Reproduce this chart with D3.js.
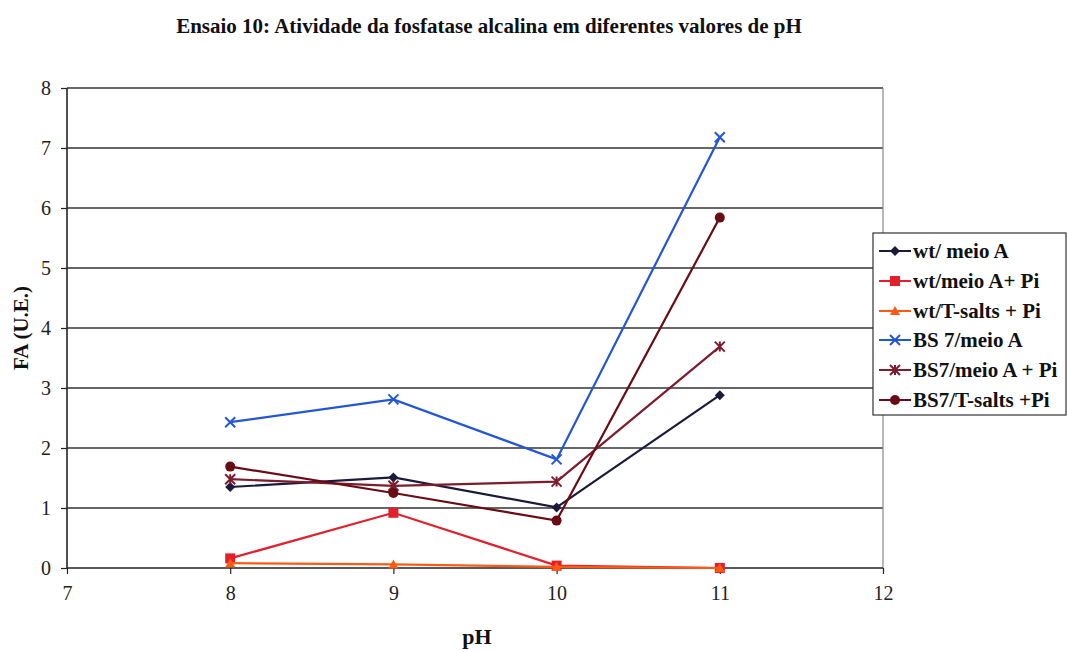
<!DOCTYPE html>
<html><head><meta charset="utf-8">
<script src="https://cdn.jsdelivr.net/npm/d3@7"></script>
<style>body{margin:0;background:#fff}svg{display:block}text{font-family:"Liberation Serif","Times New Roman",serif}</style>
</head><body><svg id="c" width="1067" height="652"></svg>
<script>
const phValues = [8, 9, 10, 11];
const seriesNames = ["wt/ meio A", "wt/meio A+ Pi", "wt/T-salts + Pi", "BS 7/meio A", "BS7/meio A + Pi", "BS7/T-salts +Pi"];
const wtMeioA = [1.35, 1.51, 1.01, 2.88];
const wtMeioAPi = [0.16, 0.92, 0.04, 0.0];
const wtTsaltsPi = [0.08, 0.06, 0.02, 0.0];
const bs7MeioA = [2.43, 2.81, 1.81, 7.18];
const bs7MeioAPi = [1.48, 1.37, 1.44, 3.69];
const bs7TsaltsPi = [1.69, 1.25, 0.79, 5.84];
const xTicks = [7, 8, 9, 10, 11, 12];
const yTicks = [0, 1, 2, 3, 4, 5, 6, 7, 8];
const seriesColors = ["#1c1a3c", "#e2202c", "#ff5a14", "#2255d8", "#7c1c2c", "#6a0c14"];
const seriesMarkers = ["diamond", "square", "triangle", "x", "star", "circle"];
const allValues = [wtMeioA, wtMeioAPi, wtTsaltsPi, bs7MeioA, bs7MeioAPi, bs7TsaltsPi];

const svg = d3.select("#c");
const L = 67, R = 883, T = 88, B = 568;
const x = d3.scaleLinear().domain([7, 12]).range([L, R]);
const y = d3.scaleLinear().domain([0, 8]).range([B, T]);

svg.append("text").attr("x", 489).attr("y", 33).attr("text-anchor", "middle")
  .attr("font-size", 21).attr("font-weight", "bold").attr("fill", "#111").text("Ensaio 10: Atividade da fosfatase alcalina em diferentes valores de pH");

// gridlines
svg.append("g").selectAll("line").data(yTicks.filter(d => d > 0)).join("line")
  .attr("x1", L).attr("x2", R).attr("y1", d => y(d)).attr("y2", d => y(d))
  .attr("stroke", "#333").attr("stroke-width", 1.3);
svg.append("line").attr("x1", R).attr("x2", R).attr("y1", T).attr("y2", B).attr("stroke", "#888").attr("stroke-width", 1.2);

const yAxis = svg.append("g").attr("transform", `translate(${L},0)`)
  .call(d3.axisLeft(y).tickValues(yTicks).tickFormat(d3.format("d")).tickSize(6).tickPadding(10));
const xAxis = svg.append("g").attr("transform", `translate(0,${B})`)
  .call(d3.axisBottom(x).tickValues(xTicks).tickFormat(d3.format("d")).tickSize(6).tickPadding(12));
[yAxis, xAxis].forEach(a => {
  a.attr("font-family", null).attr("font-size", null);
  a.select(".domain").attr("stroke", "#222").attr("stroke-width", 1.6);
  a.selectAll(".tick line").attr("stroke", "#222").attr("stroke-width", 1.2);
  a.selectAll("text").style("font-size", "20px").attr("fill", "#222");
});
xAxis.select(".domain").attr("d", `M${L},0H${R}`);
yAxis.select(".domain").attr("d", `M0,${B}V${T}`);

svg.append("text").attr("transform", `translate(28,${(T + B) / 2}) rotate(-90)`).attr("text-anchor", "middle")
  .attr("font-size", 21).attr("font-weight", "bold").attr("fill", "#111").text("FA (U.E.)");
svg.append("text").attr("x", 477).attr("y", 644).attr("text-anchor", "middle")
  .attr("font-size", 22).attr("font-weight", "bold").attr("fill", "#111").text("pH");

function marker(g, type, color, cx, cy) {
  if (type === "diamond") g.append("path").attr("d", `M${cx},${cy - 5}L${cx + 5},${cy}L${cx},${cy + 5}L${cx - 5},${cy}Z`).attr("fill", color);
  else if (type === "square") g.append("rect").attr("x", cx - 5).attr("y", cy - 5).attr("width", 10).attr("height", 10).attr("fill", color);
  else if (type === "triangle") g.append("path").attr("d", `M${cx},${cy - 5}L${cx + 5},${cy + 4}L${cx - 5},${cy + 4}Z`).attr("fill", color);
  else if (type === "circle") g.append("circle").attr("cx", cx).attr("cy", cy).attr("r", 5).attr("fill", color);
  else if (type === "x" || type === "star") {
    g.append("path").attr("d", `M${cx - 5},${cy - 5}L${cx + 5},${cy + 5}M${cx - 5},${cy + 5}L${cx + 5},${cy - 5}` + (type === "star" ? `M${cx},${cy-5}V${cy+5}` : ""))
      .attr("stroke", color).attr("stroke-width", 2).attr("fill", "none");
  }
}

const line = d3.line().x((d, i) => x(phValues[i])).y(d => y(d));
allValues.forEach((vals, si) => {
  const g = svg.append("g");
  g.append("path").datum(vals).attr("d", line).attr("fill", "none").attr("stroke", seriesColors[si]).attr("stroke-width", 2.2);
  vals.forEach((v, i) => marker(g, seriesMarkers[si], seriesColors[si], x(phValues[i]), y(v)));
});

// legend
const lg = svg.append("g");
lg.append("rect").attr("x", 873).attr("y", 233).attr("width", 193).attr("height", 182).attr("fill", "#fff").attr("stroke", "#333").attr("stroke-width", 1.2);
const legY = [251, 281, 311, 340, 370, 400];
seriesNames.forEach((n, i) => {
  lg.append("line").attr("x1", 879).attr("x2", 911).attr("y1", legY[i]).attr("y2", legY[i]).attr("stroke", seriesColors[i]).attr("stroke-width", 2);
  marker(lg, seriesMarkers[i], seriesColors[i], 895, legY[i]);
  lg.append("text").attr("x", 913).attr("y", legY[i] + 7).attr("font-size", 21).attr("font-weight", "bold").attr("fill", "#111").text(n);
});
</script></body></html>
